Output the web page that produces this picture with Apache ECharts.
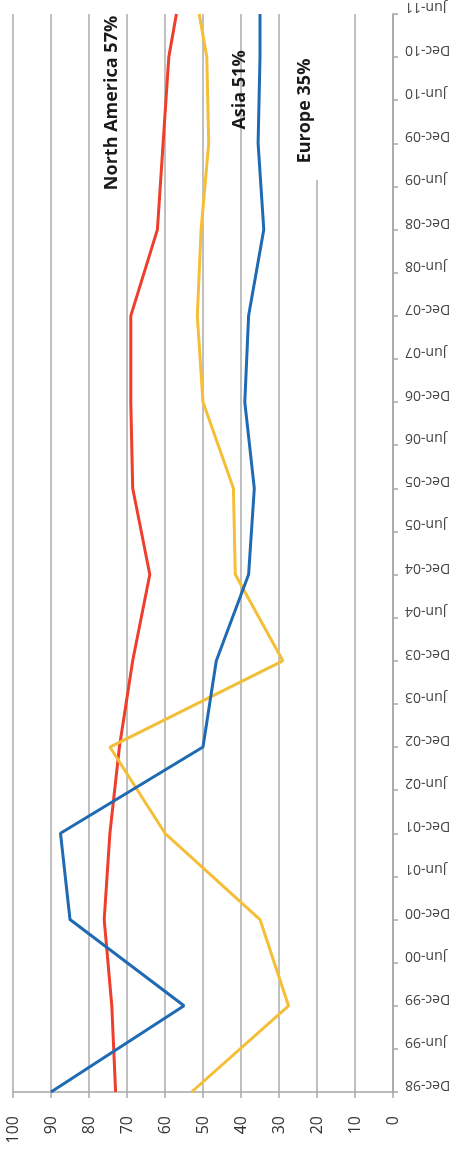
<!DOCTYPE html>
<html>
<head>
<meta charset="utf-8">
<script src="https://cdn.jsdelivr.net/npm/echarts@6/dist/echarts.min.js"></script>
<style>
html,body{margin:0;padding:0;background:#fff;}
#chart{width:469px;height:1152px;}
</style>
</head>
<body>
<div id="chart"></div>
<script>
const categories = ['Dec-98','Jun-99','Dec-99','Jun-00','Dec-00','Jun-01','Dec-01','Jun-02','Dec-02','Jun-03','Dec-03','Jun-04','Dec-04','Jun-05','Dec-05','Jun-06','Dec-06','Jun-07','Dec-07','Jun-08','Dec-08','Jun-09','Dec-09','Jun-10','Dec-10','Jun-11'];
const northAmerica = [73,null,74,null,76,null,74.5,null,72,null,68.5,null,64,null,68.5,null,69,null,69,null,62,null,60.5,null,59,57];
const asia = [53,null,27.5,null,35,null,60,null,74.5,null,29,null,41.5,null,42,null,50,null,51.5,null,50.5,null,48.5,null,49,51];
const europe = [90,null,55,null,85,null,87.5,null,50,null,46.5,null,38,null,36.5,null,39,null,38,null,34,null,35.5,null,35,35];
const valueTicks = [0,10,20,30,40,50,60,70,80,90,100];
const annotations = ['North America 57%','Asia 51%','Europe 35%'];

const chart = echarts.init(document.getElementById('chart'));
const labelFont = '"Open Sans", "Liberation Sans", sans-serif';
const lineSeries = (name, data, color) => ({
  name, type: 'line', data, connectNulls: true, showSymbol: false, symbol: 'none',
  lineStyle: {color, width: 3}, itemStyle: {color}, z: 5
});
const annoStyle = (text) => ({text, font: 'bold 18px ' + labelFont, fill: '#1a1a1a', textAlign: 'center', textVerticalAlign: 'middle'});
chart.setOption({
  animation: false,
  backgroundColor: '#fff',
  grid: {left: 13, right: 76, top: 12, bottom: 60, containLabel: false},
  xAxis: {
    type: 'value', inverse: true, position: 'bottom',
    min: valueTicks[0], max: valueTicks[valueTicks.length-1], interval: 10,
    axisLine: {show: true, lineStyle: {color: '#a6a6a6', width: 1.5}},
    axisTick: {show: true, length: 6, lineStyle: {color: '#a6a6a6', width: 1.5}},
    splitLine: {show: true, lineStyle: {color: '#ababab', width: 1.5}},
    axisLabel: {rotate: 90, margin: 24, fontSize: 16, color: '#333', fontFamily: labelFont}
  },
  yAxis: {
    type: 'category', position: 'right', data: categories, boundaryGap: false,
    axisLine: {show: true, lineStyle: {color: '#a6a6a6', width: 1.5}},
    axisTick: {show: true, length: 5, interval: 0, lineStyle: {color: '#a6a6a6', width: 1.5}},
    splitLine: {show: false},
    axisLabel: {rotate: 180, interval: 0, margin: 12, fontSize: 14, color: '#444', fontFamily: labelFont,
      verticalAlign: 'top', lineHeight: 14}
  },
  graphic: [
    {type: 'rect', shape: {x: 294, y: 0, width: 26, height: 180}, style: {fill: '#fff'}, z: 1},
    {type: 'text', x: 112, y: 103, rotation: Math.PI/2, z: 10, style: annoStyle(annotations[0])},
    {type: 'text', x: 240, y: 90, rotation: Math.PI/2, z: 10, style: annoStyle(annotations[1])},
    {type: 'text', x: 305, y: 111, rotation: Math.PI/2, z: 10, style: annoStyle(annotations[2])}
  ],
  series: [
    lineSeries('North America', northAmerica, '#ee3e2c'),
    lineSeries('Asia', asia, '#f4bf36'),
    lineSeries('Europe', europe, '#1f6bb3')
  ]
});
</script>
</body>
</html>
